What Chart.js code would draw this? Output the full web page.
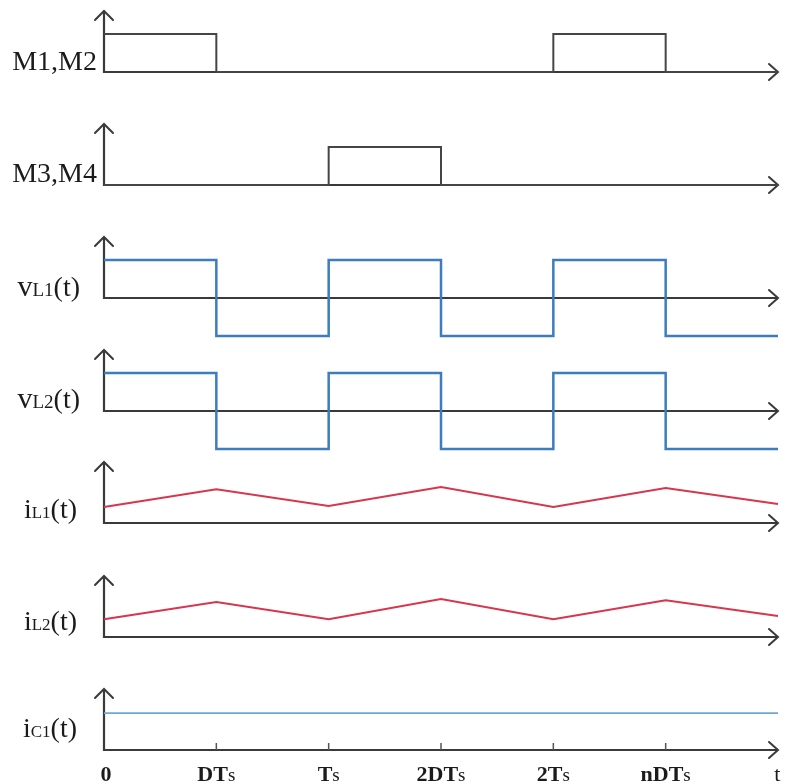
<!DOCTYPE html>
<html>
<head>
<meta charset="utf-8">
<script src="https://cdn.jsdelivr.net/npm/chart.js@4/dist/chart.umd.min.js"></script>
<style>
  html, body { margin: 0; padding: 0; background: #fff; }
  #stage { position: relative; width: 797px; height: 784px; overflow: hidden; background: #fff; }
  #stage canvas { position: absolute; left: 0; }
</style>
</head>
<body>
<div id="stage"></div>
<script>
// ---- time axis (units of DTs, D = 0.5) ----
const timeTicks = [0, 1, 2, 3, 4, 5, 6];
const tickMain  = ['0', 'DT', 'T', '2DT', '2T', 'nDT', 't'];
const tickSub   = ['',  's',  's', 's',   's',  's',   ''];

// ---- switch gate signals ----
const m12Time  = [0, 1, 4, 5, 6];
const m12Level = [1, 0, 1, 0, 0];
const m34Time  = [0, 2, 3, 6];
const m34Level = [0, 1, 0, 0];

// ---- inductor voltages ----
const vL1Time  = [0, 1, 2, 3, 4, 5, 6];
const vL1Level = [1, -1, 1, -1, 1, -1, -1];
const vL2Time  = [0, 1, 2, 3, 4, 5, 6];
const vL2Level = [1, -1, 1, -1, 1, -1, -1];

// ---- inductor currents ----
const iL1Time  = [0, 1, 2, 3, 4, 5, 6];
const iL1Value = [0.42, 0.89, 0.45, 0.95, 0.42, 0.92, 0.5];
const iL2Time  = [0, 1, 2, 3, 4, 5, 6];
const iL2Value = [0.47, 0.92, 0.47, 1.0, 0.47, 0.97, 0.55];

// ---- capacitor current ----
const iC1Time  = [0, 6];
const iC1Value = [0.97, 0.97];

// ---- panel labels: [text, font size] pieces ----
const labelM12 = [['M1,M2', 28]];
const labelM34 = [['M3,M4', 28]];
const labelVL1 = [['v', 30], ['L1', 19], ['(t)', 28]];
const labelVL2 = [['v', 30], ['L2', 19], ['(t)', 28]];
const labelIL1 = [['i', 28], ['L1', 17], ['(t)', 28]];
const labelIL2 = [['i', 28], ['L2', 17], ['(t)', 28]];
const labelIC1 = [['i', 28], ['C1', 17], ['(t)', 28]];

function toPoints(xs, ys) { return xs.map((x, i) => ({ x: x, y: ys[i] })); }

// ---- layout / style of each panel ----
const AXIS_COLOR = '#3a3a3a';
const TEXT_COLOR = '#1b1b1b';
const SERIF = '"Liberation Serif", "DejaVu Serif", serif';

const panels = [
  { axisY: 72,  label: labelM12, labelRight: 97, labelDy: -2,  data: toPoints(m12Time, m12Level), stepped: true,  color: '#454545', width: 2 },
  { axisY: 185, label: labelM34, labelRight: 97, labelDy: -3,  data: toPoints(m34Time, m34Level), stepped: true,  color: '#454545', width: 2 },
  { axisY: 298, label: labelVL1, labelRight: 80, labelDy: -2,  data: toPoints(vL1Time, vL1Level), stepped: true,  color: '#3d7dbe', width: 2.5 },
  { axisY: 411, label: labelVL2, labelRight: 80, labelDy: -3,  data: toPoints(vL2Time, vL2Level), stepped: true,  color: '#3d7dbe', width: 2.5 },
  { axisY: 523, label: labelIL1, labelRight: 77, labelDy: -5,  data: toPoints(iL1Time, iL1Value), stepped: false, color: '#d8354e', width: 2 },
  { axisY: 637, label: labelIL2, labelRight: 77, labelDy: -7,  data: toPoints(iL2Time, iL2Value), stepped: false, color: '#d8354e', width: 2 },
  { axisY: 750, label: labelIC1, labelRight: 77, labelDy: -13, data: toPoints(iC1Time, iC1Value), stepped: false, color: '#6aa8d8', width: 1.8, last: true }
];

const CANVAS_W = 797, CANVAS_H = 130, ZERO_OFFSET = 80;

// Axes with open arrowheads, drawn under the waveform
const arrowAxes = {
  id: 'arrowAxes',
  beforeDatasetsDraw(chart) {
    const ctx = chart.ctx;
    const xs = chart.scales.x, ys = chart.scales.y;
    const x0 = xs.getPixelForValue(0);
    const y0 = ys.getPixelForValue(0);
    const xEnd = xs.getPixelForValue(6);
    const yTop = y0 - 61;
    ctx.save();
    ctx.strokeStyle = AXIS_COLOR;
    ctx.lineWidth = 2.2;
    ctx.lineCap = 'butt';
    ctx.lineJoin = 'miter';
    ctx.beginPath();
    ctx.moveTo(x0, y0 + 1);
    ctx.lineTo(x0, yTop);
    ctx.moveTo(x0 - 1, y0);
    ctx.lineTo(xEnd, y0);
    ctx.stroke();
    // arrowheads
    ctx.lineWidth = 2;
    ctx.lineCap = 'round';
    ctx.beginPath();
    ctx.moveTo(x0 - 9, yTop + 9);
    ctx.lineTo(x0, yTop);
    ctx.lineTo(x0 + 9, yTop + 9);
    ctx.moveTo(xEnd - 9, y0 - 8);
    ctx.lineTo(xEnd, y0);
    ctx.lineTo(xEnd - 9, y0 + 8);
    ctx.stroke();
    ctx.restore();
  },
  afterDraw(chart, args, opts) {
    const ctx = chart.ctx;
    const xs = chart.scales.x, ys = chart.scales.y;
    const y0 = ys.getPixelForValue(0);
    const p = opts.panel;
    ctx.save();
    ctx.fillStyle = TEXT_COLOR;
    ctx.textBaseline = 'alphabetic';
    // left label, right aligned
    let widths = p.label.map(([t, s]) => { ctx.font = s + 'px ' + SERIF; return ctx.measureText(t).width; });
    let x = p.labelRight - widths.reduce((a, b) => a + b, 0);
    p.label.forEach(([t, s], i) => {
      ctx.font = s + 'px ' + SERIF;
      ctx.fillText(t, x, y0 + p.labelDy);
      x += widths[i];
    });
    if (p.last) {
      // tick marks and time labels
      ctx.strokeStyle = '#555';
      ctx.lineWidth = 1.5;
      ctx.beginPath();
      timeTicks.forEach(v => {
        if (v > 0 && v < 6) {
          const px = xs.getPixelForValue(v);
          ctx.moveTo(px, y0);
          ctx.lineTo(px, y0 - 7);
        }
      });
      ctx.stroke();
      timeTicks.forEach((v, i) => {
        const px = xs.getPixelForValue(v);
        const mainFont = 'bold 22px ' + SERIF;
        const subFont = '19px ' + SERIF;
        ctx.font = mainFont;
        const w1 = ctx.measureText(tickMain[i]).width;
        ctx.font = subFont;
        const w2 = ctx.measureText(tickSub[i]).width;
        let sx = px - (w1 + w2) / 2;
        if (i === 0) sx += 2;
        ctx.font = (tickMain[i] === 't') ? '22px ' + SERIF : mainFont;
        ctx.fillText(tickMain[i], sx, y0 + 31);
        ctx.font = subFont;
        ctx.fillText(tickSub[i], sx + w1, y0 + 31);
      });
    }
    ctx.restore();
  }
};

const stage = document.getElementById('stage');
panels.forEach((p) => {
  const cv = document.createElement('canvas');
  cv.width = CANVAS_W;
  cv.height = CANVAS_H;
  cv.style.top = (p.axisY - ZERO_OFFSET) + 'px';
  stage.appendChild(cv);
  new Chart(cv, {
    type: 'line',
    data: {
      datasets: [{
        data: p.data,
        borderColor: p.color,
        borderWidth: p.width,
        stepped: p.stepped ? 'before' : false,
        pointRadius: 0,
        tension: 0,
        fill: false,
        clip: 6
      }]
    },
    options: {
      responsive: false,
      animation: false,
      devicePixelRatio: 1,
      events: [],
      layout: { padding: { left: 104, right: 19, top: 4, bottom: 12 } },
      scales: {
        x: { type: 'linear', min: 0, max: 6, display: false },
        y: { type: 'linear', min: -1, max: 2, display: false }
      },
      plugins: {
        legend: { display: false },
        tooltip: { enabled: false },
        arrowAxes: { panel: p }
      }
    },
    plugins: [arrowAxes]
  });
});
</script>
</body>
</html>
